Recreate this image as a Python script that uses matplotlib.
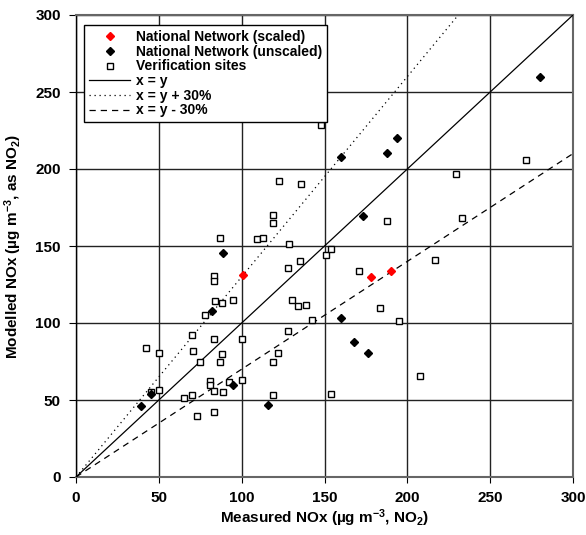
import matplotlib
matplotlib.use('Agg')
import numpy as np
import matplotlib.pyplot as plt

plt.rcParams['font.family'] = 'Liberation Sans'
plt.rcParams['font.weight'] = 'bold'
plt.rcParams['mathtext.fontset'] = 'custom'
plt.rcParams['mathtext.rm'] = 'Liberation Sans:bold'
plt.rcParams['mathtext.default'] = 'rm'

# National Network (scaled)
scaled_x = [101, 178, 190]
scaled_y = [131, 130, 134]

# National Network (unscaled)
unscaled_x = [39, 45, 82, 89, 95, 116, 160, 160, 168, 173, 176, 188, 194, 280]
unscaled_y = [46, 54, 107.5, 145.5, 60, 46.5, 103.5, 207.5, 87.5, 169.5, 80.5, 210.5, 220, 260]

# Verification sites
verif_x = [42, 45.5, 50, 50, 65, 70, 70.5, 70, 73, 75, 78, 81, 81, 83, 83, 84, 83, 83, 83,
           87, 87, 88, 88, 89, 92.5, 95, 100, 100, 109, 113, 118.7, 118.7, 118.7, 118.7,
           122, 122.7, 127.8, 127.8, 128.7, 130.5, 134, 135, 135.6, 139, 142.6, 147.6,
           151, 154, 154, 171, 183.6, 188, 195, 207.6, 216.7, 229.5, 232.7, 271.4]
verif_y = [83.5, 55, 80.5, 56.5, 51, 92, 81.5, 53, 39.5, 75, 105.5, 62.5, 60, 130.5, 127.5,
           114, 89.5, 55.8, 42, 155, 75, 113, 80, 55.5, 61.5, 115, 89.5, 63, 154.5, 155.5,
           170, 165, 75, 53, 80.5, 192, 136, 94.5, 151, 115, 111, 140, 190.5, 112, 102,
           228.5, 144, 148, 54, 133.5, 109.7, 166.3, 101, 65.5, 141, 196.5, 168, 206]

line_x = np.array([0, 300])

fig = plt.figure(figsize=(5.86, 5.35), dpi=100)
ax = fig.add_axes([76 / 586, 1 - 477 / 535, 497 / 586, 462 / 535])

ax.plot(scaled_x, scaled_y, linestyle='none', marker='D', markersize=4.5,
        color='red', label='National Network (scaled)', zorder=5)
ax.plot(unscaled_x, unscaled_y, linestyle='none', marker='D', markersize=4.5,
        color='black', label='National Network (unscaled)', zorder=5)
ax.plot(verif_x, verif_y, linestyle='none', marker='s', markersize=5,
        markerfacecolor='white', markeredgecolor='black', markeredgewidth=1,
        label='Verification sites', zorder=4)
ax.plot(line_x, line_x, color='black', lw=0.9, label='x = y', zorder=3)
ax.plot(line_x, line_x * 1.3, color='black', lw=0.9, linestyle=(0, (1, 3)),
        label='x = y + 30%', zorder=3)
ax.plot(line_x, line_x * 0.7, color='black', lw=0.9, linestyle=(0, (5, 4)),
        label='x = y - 30%', zorder=3)

ax.set_xlim(0, 300)
ax.set_ylim(0, 300)
ax.set_xticks(range(0, 301, 50))
ax.set_yticks(range(0, 301, 50))
ax.grid(True, color='#222222', lw=1)
ax.set_axisbelow(True)
for s in ax.spines.values():
    s.set_color('#666666')
    s.set_linewidth(1.5)
ax.spines['left'].set_color('black')
ax.spines['left'].set_linewidth(1)
ax.tick_params(axis='y', direction='out', length=5, pad=6, labelsize=11)
ax.tick_params(axis='x', direction='out', length=4, pad=6, labelsize=11)

ax.set_xlabel('Measured NOx (µg m$^{-3}$, NO$_2$)', fontsize=11, fontweight='bold', labelpad=2)
ax.set_ylabel('Modelled NOx (µg m$^{-3}$, as NO$_2$)', fontsize=11, fontweight='bold', labelpad=8)

leg = ax.legend(loc='upper left', bbox_to_anchor=(0.016, 0.978), borderaxespad=0,
                fontsize=10, fancybox=False, edgecolor='black', framealpha=1,
                handlelength=3, handletextpad=0.4, labelspacing=0.05, borderpad=0.35)
leg.get_frame().set_linewidth(1)

fig.savefig('out.png', dpi=100)
